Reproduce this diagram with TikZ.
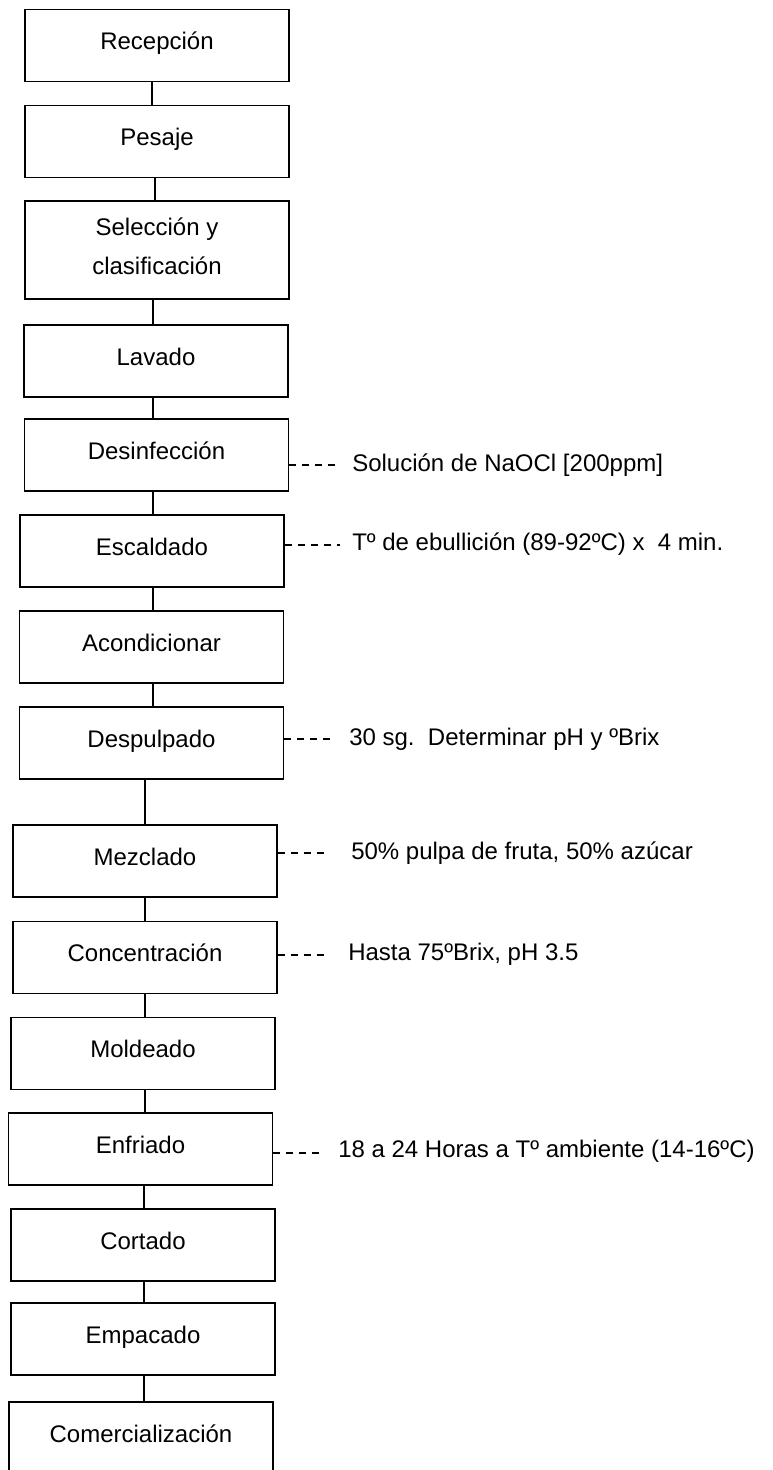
\documentclass[tikz,border=0pt]{standalone}
\usepackage{fontspec}
\setmainfont{Liberation Sans}
\begin{document}
\begin{tikzpicture}[x=0.75pt,y=-0.75pt,
  box/.style={draw, line width=1.3pt, inner sep=0pt, align=center,
    font=\fontsize{18}{29}\selectfont, text height=13pt, text depth=7pt,
    minimum width=198pt, minimum height=54pt},
  conn/.style={line width=1.2pt},
  dashline/.style={line width=0.9pt, dash pattern=on 5pt off 4.75pt},
  note/.style={anchor=base west, inner sep=0pt, font=\fontsize{18}{22}\selectfont}]
\useasboundingbox (0,0) rectangle (772,1470);
\fill[white] (0,0) rectangle (772,1470);
\clip (0,0) rectangle (772,1470);
% boxes
\node[box] (n1) at (157,45.5) {Recepción};
\node[box] (n2) at (157,141.5) {Pesaje};
\node[box, minimum height=73.5pt, text height=42pt, text depth=6pt] (n3) at (157,250) {Selección y\\clasificación};
\node[box] (n4) at (156,361) {Lavado};
\node[box] (n5) at (156.5,455) {Desinfección};
\node[box] (n6) at (152,551) {Escaldado};
\node[box] (n7) at (151.5,647) {Acondicionar};
\node[box] (n8) at (151.5,743) {Despulpado};
\node[box] (n9) at (145,861) {Mezclado};
\node[box] (n10) at (145,957.5) {Concentración};
\node[box] (n11) at (143,1053.5) {Moldeado};
\node[box] (n12) at (140.5,1149) {Enfriado};
\node[box] (n13) at (143,1245) {Cortado};
\node[box] (n14) at (143,1339) {Empacado};
\node[box] (n15) at (141,1438) {Comercialización};
% connectors
\draw[conn] (n1.south -| 152,0) -- (n2.north -| 152,0);
\draw[conn] (n2.south -| 155,0) -- (n3.north -| 155,0);
\draw[conn] (n3.south -| 153,0) -- (n4.north -| 153,0);
\draw[conn] (n4.south -| 153,0) -- (n5.north -| 153,0);
\draw[conn] (n5.south -| 153,0) -- (n6.north -| 153,0);
\draw[conn] (n6.south -| 153,0) -- (n7.north -| 153,0);
\draw[conn] (n7.south -| 153,0) -- (n8.north -| 153,0);
\draw[conn] (n8.south -| 145,0) -- (n9.north -| 145,0);
\draw[conn] (n9.south -| 145,0) -- (n10.north -| 145,0);
\draw[conn] (n10.south -| 145,0) -- (n11.north -| 145,0);
\draw[conn] (n11.south -| 145,0) -- (n12.north -| 145,0);
\draw[conn] (n12.south -| 144,0) -- (n13.north -| 144,0);
\draw[conn] (n13.south -| 144,0) -- (n14.north -| 144,0);
\draw[conn] (n14.south -| 144,0) -- (n15.north -| 144,0);
% notes
\node[note] (t5) at (352,471.5) {Solución de NaOCl [200ppm]};
\node[note] (t6) at (352,550.5) {Tº de ebullición (89-92ºC) x\ \ 4 min.};
\node[note] (t8) at (349,745.5) {30 sg.\ \ Determinar pH y ºBrix};
\node[note] (t9) at (351,859) {50\% pulpa de fruta, 50\% azúcar};
\node[note] (t10) at (348,960) {Hasta 75ºBrix, pH 3.5};
\node[note] (t12) at (338,1157) {18 a 24 Horas a Tº ambiente (14-16ºC)};
\coordinate (d5) at (340,465);
\coordinate (d6) at (340,545);
\coordinate (d8) at (332,739);
\coordinate (d9) at (328,853);
\coordinate (d10) at (328,955);
\coordinate (d12) at (320,1153);
\draw[dashline] (d5 -| n5.east) -- (d5);
\draw[dashline] (d6 -| n6.east) -- (d6);
\draw[dashline] (d8 -| n8.east) -- (d8);
\draw[dashline] (d9 -| n9.east) -- (d9);
\draw[dashline] (d10 -| n10.east) -- (d10);
\draw[dashline] (d12 -| n12.east) -- (d12);
\end{tikzpicture}
\end{document}
